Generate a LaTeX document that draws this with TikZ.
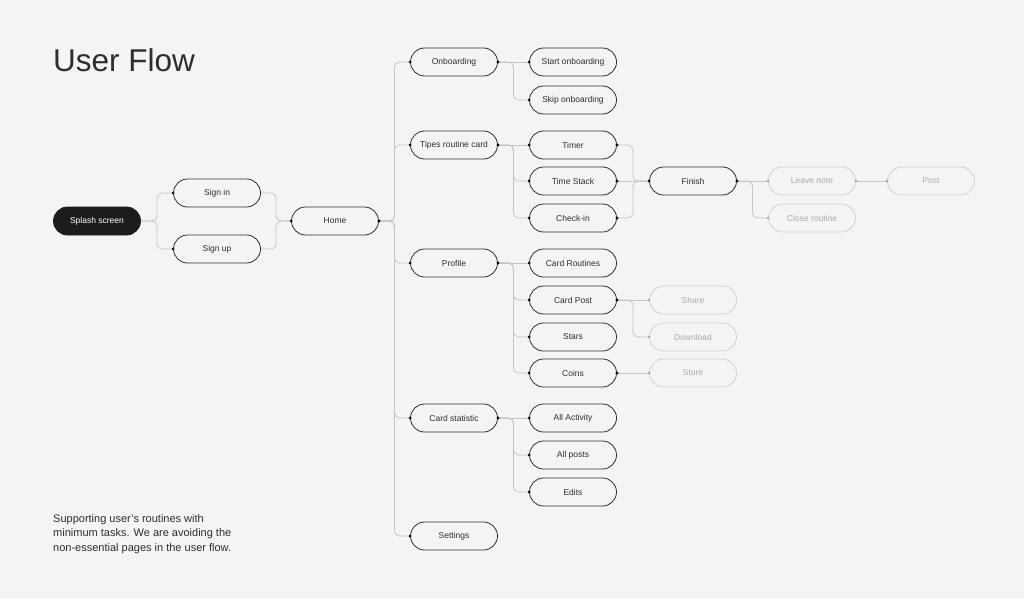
\documentclass[tikz,border=0pt]{standalone}
\usepackage{fontspec}
\setmainfont{Liberation Sans}
\usetikzlibrary{calc}
\definecolor{bgcol}{HTML}{F4F4F2}
\definecolor{inkcol}{HTML}{2E2E2E}
\definecolor{darkcol}{HTML}{1B1C1D}
\definecolor{linkcol}{HTML}{C6C6C4}
\definecolor{fadecol}{HTML}{D2D2D0}
\definecolor{fadetext}{HTML}{ABABAB}
\begin{document}
\begin{tikzpicture}[x=1pt,y=-1pt,
    screen/.style={draw=inkcol,line width=.8pt,rounded corners=14pt,minimum width=87pt,minimum height=28pt,inner sep=0pt,font=\fontsize{8.5}{10}\selectfont,text=inkcol},
    faded/.style={screen,draw=fadecol,text=fadetext},
    start/.style={screen,draw=darkcol,fill=darkcol,text=white},
    link/.style={draw=linkcol,line width=.8pt,rounded corners=5pt},
    flow/.style={link,to path={-| ($(\tikztostart)!.5!(\tikztotarget)$) |- (\tikztotarget)}}]
    \fill[bgcol] (0,0) rectangle (1024,599);
    \useasboundingbox (0,0) rectangle (1024,599);
    % title and note
    \node[anchor=base west,inner sep=0pt,text=inkcol,font=\fontsize{31.5}{36}\selectfont] (title) at (53,72) {User Flow};
    \node[anchor=north west,inner sep=0pt,align=left,text=inkcol,font=\fontsize{11}{14.5}\selectfont] (note) at (53,514)
        {Supporting user's routines with\\minimum tasks. We are avoiding the\\non-essential pages in the user flow.};
    % screens
    \node[start] (splash) at (97,221) {Splash screen};
    \node[screen] (signin) at (217,193) {Sign in};
    \node[screen] (signup) at (217,249) {Sign up};
    \node[screen] (home) at (335,221) {Home};
    \node[screen] (onboard) at (454,62) {Onboarding};
    \node[screen] (tipes) at (454,145) {Tipes routine card};
    \node[screen] (profile) at (454,263) {Profile};
    \node[screen] (stat) at (454,418) {Card statistic};
    \node[screen] (settings) at (454,536) {Settings};
    \node[screen] (startob) at (573,62) {Start onboarding};
    \node[screen] (skipob) at (573,100) {Skip onboarding};
    \node[screen] (timer) at (573,145) {Timer};
    \node[screen] (stack) at (573,181) {Time Stack};
    \node[screen] (checkin) at (573,218) {Check-in};
    \node[screen] (finish) at (693,181) {Finish};
    \node[faded] (leave) at (812,181) {Leave note};
    \node[faded] (post) at (931,181) {Post};
    \node[faded] (close) at (812,218) {Close routine};
    \node[screen] (routines) at (573,263) {Card Routines};
    \node[screen] (cardpost) at (573,300) {Card Post};
    \node[screen] (stars) at (573,337) {Stars};
    \node[screen] (coins) at (573,373) {Coins};
    \node[faded] (share) at (693,300) {Share};
    \node[faded] (download) at (693,337) {Download};
    \node[faded] (store) at (693,373) {Store};
    \node[screen] (activity) at (573,418) {All Activity};
    \node[screen] (posts) at (573,455) {All posts};
    \node[screen] (edits) at (573,492) {Edits};
    % connectors
    \foreach \from/\to in {splash/signin,splash/signup,signin/home,signup/home,
        home/onboard,home/tipes,home/profile,home/stat,home/settings,
        onboard/skipob,tipes/stack,tipes/checkin,
        timer/finish,checkin/finish,finish/close,
        profile/cardpost,profile/stars,profile/coins,
        cardpost/download,stat/posts,stat/edits}
        \draw[flow] (\from.east) to (\to.west);
    \foreach \from/\to in {onboard/startob,tipes/timer,stack/finish,finish/leave,leave/post,
        profile/routines,cardpost/share,coins/store,stat/activity}
        \draw[link] (\from.east) -- (\to.west);
    % anchor dots
    \foreach \n in {home,onboard,tipes,profile,stat,timer,stack,checkin,finish,cardpost,coins}
        \fill[black] (\n.east) circle (1.6pt);
    \foreach \n in {signin,signup,home,onboard,tipes,profile,stat,settings,startob,skipob,
        timer,stack,checkin,finish,routines,cardpost,stars,coins,activity,posts,edits}
        \fill[black] (\n.west) circle (1.6pt);
    \fill[fadetext] (leave.east) circle (1.6pt);
    \foreach \n in {leave,post,close,share,download,store}
        \fill[fadetext] (\n.west) circle (1.6pt);
\end{tikzpicture}
\end{document}
